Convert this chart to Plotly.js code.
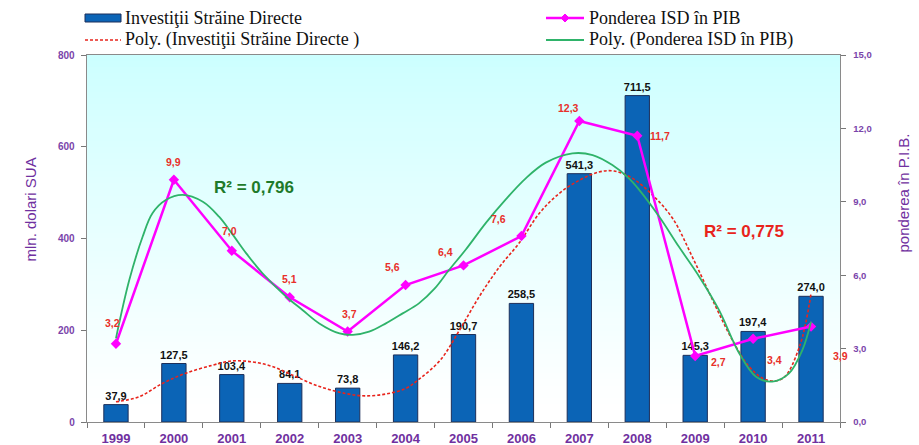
<!DOCTYPE html>
<html><head><meta charset="utf-8">
<script src="https://cdn.plot.ly/plotly-3.0.1.min.js"></script>
<style>html,body{margin:0;padding:0;background:#fff;}</style>
</head><body><div id="chart" style="width:919px;height:445px;"></div>
<script>
// ---- data ----
const years = [1999,2000,2001,2002,2003,2004,2005,2006,2007,2008,2009,2010,2011];
const isd = [37.9,127.5,103.4,84.1,73.8,146.2,190.7,258.5,541.3,711.5,145.3,197.4,274.0];
const ponderea = [3.2,9.9,7.0,5.1,3.7,5.6,6.4,7.6,12.3,11.7,2.7,3.4,3.9];
// trend lines
const polyIsdX = [1999.0,1999.4,1999.8,2000.2,2000.67,2001.0,2001.36,2001.7,2002.05,2002.5,2002.97,2003.3,2003.66,2004.0,2004.25,2004.6,2004.93,2005.27,2005.62,2005.96,2006.31,2006.65,2007.0,2007.34,2007.6,2007.92,2008.26,2008.61,2008.95,2009.3,2009.64,2009.93,2010.22,2010.51,2010.8,2011.0];
const polyIsdY = [44,55,84,106,124,133,131,121,102,78,62,57,61,73,95,135,200,273,338,390,455,498,527,545,547,531,495,444,360,266,179,121,92,95,164,280];
const polyPondX = [1999.0,1999.23,1999.46,1999.63,1999.86,2000.15,2000.5,2000.78,2001.0,2001.25,2001.53,2001.94,2002.22,2002.51,2002.86,2003.09,2003.37,2003.66,2003.95,2004.23,2004.5,2004.75,2005.04,2005.39,2005.73,2006.07,2006.42,2006.88,2007.23,2007.57,2007.86,2008.03,2008.38,2008.72,2009.07,2009.41,2009.76,2010.05,2010.33,2010.62,2010.85,2011.0];
const polyPondY = [3.42,5.8,7.57,8.53,9.07,9.28,9.0,8.39,7.71,6.89,6.08,5.12,4.58,4.03,3.62,3.56,3.69,4.03,4.44,4.85,5.45,6.21,7.05,8.15,9.1,9.95,10.6,10.98,10.91,10.5,9.95,9.5,8.39,7.16,5.94,4.58,2.81,1.85,1.65,1.99,2.94,4.1];
const leftTicks = [0,200,400,600,800];
const rightTicks = [0,3,6,9,12,15];
const names = ['Investiţii Străine Directe','Poly. (Investiţii Străine Directe )','Ponderea ISD în PIB','Poly. (Ponderea ISD în PIB)'];
const axisTitles = ['mln. dolari SUA','ponderea în P.I.B.'];
const r2Labels = ['R² = 0,796','R² = 0,775'];

// ---- styles ----
const purple = '#7030a0';
const sans = 'Liberation Sans, Arial';
const serif = 'Liberation Serif, Times New Roman';
const C = {bar:'#0b64b6', barLine:'#1c2f5a', red:'#e8241c', mag:'#ff00ff', green:'#2fb36a'};
// plot area in pixels: x 87..840, y 55..422
const PX = x => (x - 87) / 753, PY = y => (422 - y) / 367;
// pixel offsets of the share labels from their markers
const labelDx = [-3,0,-2,0,2,-13,-18,-23,-11,23,23,21,29];
const labelDy = [21,18,20,18,17,18,13,17,13,0,-6,-21,-29];
const fmt = v => v.toFixed(1).replace('.', ',');

const traces = [
  {type:'bar', x:years, y:isd, name:names[0], yaxis:'y', showlegend:false,
   width:0.42, marker:{color:C.bar, line:{color:C.barLine, width:1}},
   text:isd.map(fmt), textposition:'outside', cliponaxis:false, constraintext:'none',
   textfont:{family:sans, size:11, color:'#111', weight:'bold'}},
  {type:'scatter', mode:'lines', x:polyIsdX, y:polyIsdY, name:names[1], yaxis:'y', showlegend:false,
   line:{color:C.red, width:1.6, dash:'3px,2px', shape:'spline', smoothing:1}},
  {type:'scatter', mode:'lines+markers', x:years, y:ponderea, name:names[2], yaxis:'y2', showlegend:false,
   line:{color:C.mag, width:2.5}, marker:{symbol:'diamond', size:8, color:C.mag}},
  {type:'scatter', mode:'lines', x:polyPondX, y:polyPondY, name:names[3], yaxis:'y2', showlegend:false,
   line:{color:C.green, width:1.8, shape:'spline', smoothing:1}}
];

// gradient background strips
const shapes = [];
const N = 60;
for (let i = 0; i < N; i++) {
  const t = i / N;
  const k = Math.min(1, Math.pow(t / 0.95, 0.9));
  const r = Math.round(0xcc + (255 - 0xcc) * k);
  shapes.push({type:'rect', xref:'paper', yref:'paper', x0:0, x1:1,
    y1:1 - i / N, y0:1 - (i + 1) / N - 0.002, fillcolor:`rgb(${r},255,255)`,
    line:{width:0}, layer:'below'});
}

// hand-built legend (two columns, two rows)
const legCols = [85, 546], legRows = [18, 40], symW = 36;
shapes.push(
  {type:'rect', xref:'paper', yref:'paper', x0:PX(legCols[0]), x1:PX(legCols[0]+symW), y0:PY(22), y1:PY(14),
   fillcolor:C.bar, line:{color:C.barLine, width:1}},
  {type:'line', xref:'paper', yref:'paper', x0:PX(legCols[0]), x1:PX(legCols[0]+symW), y0:PY(legRows[1]), y1:PY(legRows[1]),
   line:{color:C.red, width:1.6, dash:'3px,2px'}},
  {type:'line', xref:'paper', yref:'paper', x0:PX(legCols[1]), x1:PX(legCols[1]+symW+2), y0:PY(legRows[0]), y1:PY(legRows[0]),
   line:{color:C.mag, width:2.5}},
  {type:'path', xref:'paper', yref:'paper', fillcolor:C.mag, line:{color:C.mag, width:1},
   path:`M ${PX(565)} ${PY(14)} L ${PX(569)} ${PY(18)} L ${PX(565)} ${PY(22)} L ${PX(561)} ${PY(18)} Z`},
  {type:'line', xref:'paper', yref:'paper', x0:PX(legCols[1]), x1:PX(legCols[1]+symW+2), y0:PY(legRows[1]), y1:PY(legRows[1]),
   line:{color:C.green, width:1.8}}
);

const annotations = ponderea.map((v, i) => ({
  text: fmt(v), xref:'x', yref:'y2', x: years[i], y: v, showarrow:false,
  xshift: labelDx[i], yshift: labelDy[i],
  font:{family:sans, size:10.5, color:'#e8302a', weight:'bold'}
}));
const legText = (t, x, y) => ({text:t, xref:'paper', yref:'paper', x:PX(x), y:PY(y), xanchor:'left', yanchor:'middle',
  showarrow:false, font:{family:serif, size:18, color:'#111'}});
annotations.push(
  legText(names[0], 123, legRows[0]), legText(names[1], 123, legRows[1]),
  legText(names[2], 587, legRows[0]), legText(names[3], 587, legRows[1]),
  {text:r2Labels[0], xref:'x', yref:'y2', x:2001.38, y:9.6, showarrow:false,
   font:{family:sans, size:17, color:'#1e7a2a', weight:'bold'}},
  {text:r2Labels[1], xref:'x', yref:'y2', x:2009.85, y:7.8, showarrow:false,
   font:{family:sans, size:17, color:C.red, weight:'bold'}},
  {text:axisTitles[0], xref:'paper', yref:'paper', x:PX(19), y:PY(210), textangle:-90, showarrow:false,
   font:{family:sans, size:15, color:purple}},
  {text:axisTitles[1], xref:'paper', yref:'paper', x:PX(913), y:PY(193), textangle:-90, showarrow:false,
   font:{family:sans, size:15, color:purple}}
);

const layout = {
  width:919, height:445,
  margin:{l:87, r:79, t:55, b:23},
  separators:', ',
  paper_bgcolor:'#ffffff', plot_bgcolor:'#ffffff',
  showlegend:false,
  shapes:shapes,
  annotations:annotations,
  xaxis:{range:[1998.5,2011.5], tickmode:'array', tickvals:years, ticks:'', ticklabelstandoff:4,
    showline:true, linecolor:'#8a8a8a', linewidth:1.3, mirror:true, showgrid:false, zeroline:false,
    tickfont:{family:sans, size:13, color:purple, weight:'bold'},
    minor:{tick0:1998.5, dtick:1, ticks:'outside', ticklen:5, tickcolor:'#777', showgrid:false}},
  yaxis:{range:[0,800], tickmode:'array', tickvals:leftTicks, ticks:'outside', ticklen:5, tickcolor:'#777',
    ticklabelstandoff:4,
    showline:true, linecolor:'#8a8a8a', linewidth:1.3, showgrid:false, zeroline:false,
    tickfont:{family:sans, size:10, color:'#7a44aa', weight:'bold'}},
  yaxis2:{range:[0,15], overlaying:'y', side:'right', tickmode:'array', tickvals:rightTicks, tickformat:'.1f',
    ticks:'outside', ticklen:5, tickcolor:'#777', ticklabelstandoff:5,
    showline:true, linecolor:'#8a8a8a', linewidth:1.3, showgrid:false, zeroline:false,
    tickfont:{family:sans, size:9.5, color:'#7a44aa', weight:'bold'}}
};

Plotly.newPlot('chart', traces, layout, {displayModeBar:false, staticPlot:true});
</script>
</body></html>
